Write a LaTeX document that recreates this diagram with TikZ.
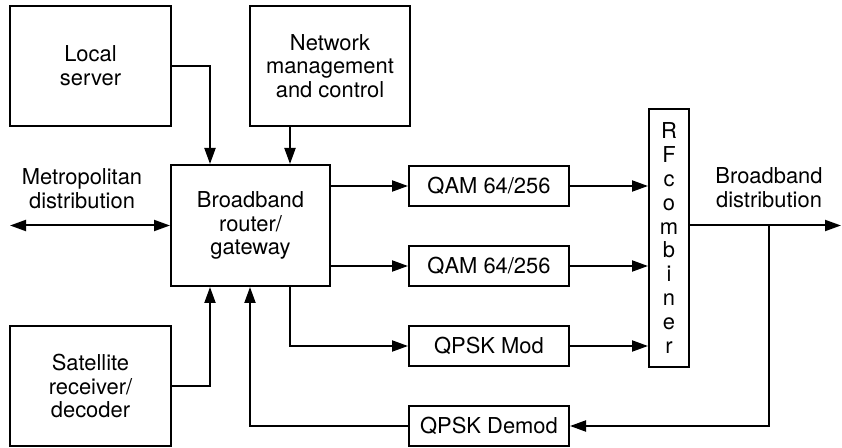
\documentclass[tikz,border=0pt]{standalone}
\usepackage{fontspec}
\setmainfont{TeX Gyre Heros}
\usetikzlibrary{arrows.meta}
\begin{document}
\begin{tikzpicture}[x=1bp,y=-1bp,
  every node/.style={font=\fontsize{22}{23.9}\selectfont},
  blk/.style={draw,line width=2bp,rectangle,inner sep=0pt,align=center},
  lbl/.style={align=center,inner sep=0pt},
  arr/.style={line width=2bp,-{Triangle[length=16bp,width=11bp]}},
  darr/.style={line width=2bp,{Triangle[length=16bp,width=11bp]}-{Triangle[length=16bp,width=11bp]}},
  ln/.style={line width=2bp}]
\useasboundingbox (0,0) rectangle (842,448);
% blocks
\node[blk,minimum width=161bp,minimum height=120bp] (local) at (90.5,66) {Local\\server};
\node[blk,minimum width=160bp,minimum height=120bp] (netmgmt) at (330,66) {Network\\management\\and control};
\node[blk,minimum width=159bp,minimum height=121bp] (router) at (250.5,225.5) {Broadband\\router/\\gateway};
\node[blk,minimum width=161bp,minimum height=120bp] (sat) at (90.5,386) {Satellite\\receiver/\\decoder};
\node[blk,minimum width=160bp,minimum height=40bp] (qam1) at (489,186) {QAM 64/256};
\node[blk,minimum width=160bp,minimum height=40bp] (qam2) at (489,266) {QAM 64/256};
\node[blk,minimum width=160bp,minimum height=40bp] (qpskmod) at (489,346) {QPSK Mod};
\node[blk,minimum width=160bp,minimum height=40bp] (qpskdemod) at (489,426) {QPSK Demod};
\node[blk,minimum width=40bp,minimum height=258bp] (rf) at (669,238) {R\\F\\c\\o\\m\\b\\i\\n\\e\\r};
% labels
\node[lbl] (metro) at (82,189) {Metropolitan\\distribution};
\node[lbl] (bbd) at (769,188) {Broadband\\distribution};
% helper coordinates
\coordinate (xa) at (210,0);
\coordinate (xb) at (250,0);
\coordinate (xc) at (290,0);
\coordinate (xt) at (769,0);
\coordinate (mleft) at (10,225.5);
\coordinate (bout) at (841,225.5);
% connectors
\draw[arr] (local.east) -| (router.north -| xa);
\draw[arr] (netmgmt.south -| xc) -- (router.north -| xc);
\draw[arr] (sat.east) -| (router.south -| xa);
\draw[arr] (qpskdemod.west) -| (router.south -| xb);
\draw[arr] (router.south -| xc) |- (qpskmod.west);
\draw[arr] (router.east |- qam1.west) -- (qam1.west);
\draw[arr] (router.east |- qam2.west) -- (qam2.west);
\draw[arr] (qam1.east) -- (rf.west |- qam1.east);
\draw[arr] (qam2.east) -- (rf.west |- qam2.east);
\draw[arr] (qpskmod.east) -- (rf.west |- qpskmod.east);
\draw[darr] (mleft) -- (router.west);
\draw[arr] (rf.east |- bout) -- (bout);
\draw[arr] (bout -| xt) |- (qpskdemod.east);
\end{tikzpicture}
\end{document}
